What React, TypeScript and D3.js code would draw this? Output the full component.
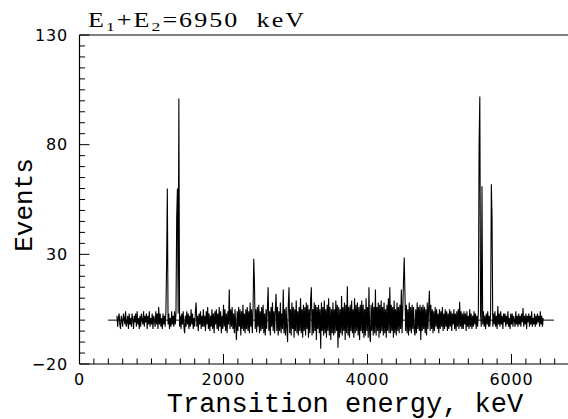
import React from 'react';
import * as d3 from 'd3';

// Spectrum: counts per 10 keV channel, starting at 520 keV
const START_KEV = 520;
const STEP_KEV = 10;
const COUNTS: number[] = [
  // 520-710
  2, -3, 1, 3, -2, -4, 2, 0, -3, 3, 1, -2, 4, -3, -1, 2, -4, 3, -2, 1,
  // 720-910
  -3, 3, 0, -4, 2, -1, 3, -3, 4, -2, 1, -4, 2, -3, 3, 0, -2, 4, -3, 2,
  // 920-1110
  -1, 3, -4, 2, -2, 4, -3, 1, -2, 3, -4, 2, 0, -3, 4, -2, 3, -4, 6, -2,
  // 1120-1310
  3, -3, 1, -4, 3, -2, 2, -3, 4, 26, 60, -2, 3, -4, 1, -3, 4, -2, 2, -3,
  // 1320-1510
  4, -2, 3, 47, 60, 3, 101, -3, 2, -4, 3, -2, 4, -3, -6, 2, -3, 4, -2, 3,
  // 1520-1710
  -4, 2, -3, 5, -2, 3, -4, 1, -3, 4, 8, -3, 2, -5, 3, -2, 4, -4, 2, -3,
  // 1720-1910
  5, -3, 2, -5, 4, -2, 6, -4, 3, -5, 2, -3, 5, -4, 3, -6, 4, -2, 5, -4,
  // 1920-2110
  3, -5, 6, -3, 4, -6, 2, -4, 7, -3, 5, -5, 3, -6, 4, -2, 14, -4, 5, -3,
  // 2120-2310
  6, -4, 3, -6, 5, -3, -9, 4, -5, 6, -3, 5, -7, 4, -4, 7, -5, 3, -6, 5,
  // 2320-2510
  -4, 6, -5, 4, -6, 8, -3, 5, -6, 4, 28, 17, -4, 5, -5.5, 6, -3, 7, -6, 4,
  // 2520-2710
  -5, 6, -4, 7, -6, 3, -7, 5, -4, 6, 15, -5, 4, -7, 6, -3, 8, -5, 4, -6,
  // 2720-2910
  5, 12, -5, 6, -7, 4, -5, 8, -6, 3, -4, 14, -6, 5, -7, 6, -4, -10, 7, 15,
  // 2920-3110
  -6, 5, -7, 8, -4, 6, -8, 5, -5, 9, -6, 4, -7, 6, -5, 10, -6, 5, -8, 7,
  // 3120-3310
  -5, 6, -7, 8, -4, 7, -8, 5, -6, 9, 15, -7, 5, -6, 8, -5, 7, -9, 6, -4,
  // 3320-3510
  7, -6, 5, -13, 8, -5, 6, -7, 9, -6, 5, -8, 7, -5, 10, -7, 6, -9, 5, -6,
  // 3520-3710
  8, -7, 5, -6, 9, -5, 7, -12.6, 6, -8, 5, -6, 11, -7, 6, -5, 8, -9, 7, -6,
  // 3720-3910
  15.5, -7, 6, -8, 7, -5, 9, -6, 5, -8, 10, -6, 7, -5, 8, -7, 6, -9, 7, -5,
  // 3920-4110
  9, -6, 7, -8, 5, -7, 10, -5, 6, -8, 15, -6, -10, 7, -5, 8, -7, 6, -6, 14,
  // 4120-4310
  -7, 6, -5, 8, -8, 7, -6, 9, -5, 6, -7, 8, -6, 5, -8, 7, -5, 10, -6, 15,
  // 4320-4510
  -6, 7, -5, 6, -8, 9, -6, 5, -7, 8, -5, 6, -6, 7, -4, 14, -6, 5, 18, 28.5,
  // 4520-4710
  12, -5, 7, -6, 5, -7, 8, -5, 6, -6, 7, -4, 6, -5, -7, 5, -6, 8, -4, 6,
  // 4720-4910
  -5, 7, -9, 6, -5, 7, -4, 6, -6, 5, -7, 8, -4, 6, 13.4, -5, 7, -4, 5, -6,
  // 4920-5110
  4, -5, 6, -3, 5, -4, 3, -6, 5, -4, 4, -3, 6, -5, 3, -4, 5, -3, 4, -5,
  // 5120-5310
  3, -4, 5, -3, 4, -5, 3, -2, 5, -4, 3, -5, 4, -3, 5, -4, 8.4, -3, 4, -4,
  // 5320-5510
  3, -4, 4, -2, 3, -5, 4, -3, 2, -4, 5, -3, 3, -4, 2, -3, 4, -2, 3, -4,
  // 5520-5710
  2, -3, 4, 80, 102, 3, -3, 61, -2, 4, -3, 2, -4, 3, -2, 4, -3, 2, -3, 3,
  // 5720-5910
  62, 46, -3, 3, -2, 4, -3, 2, -4, 6.4, -2, 3, -3, 4, -2, 2, -4, 3, -1, 3,
  // 5920-6110
  -3, 2, -2, 4, -3, 1, -4, 3, -2, 3, -3, 2, 0, -3, 4, -2, 2, -3, 3, -2,
  // 6120-6310
  2, -3, 3, -1, 5.5, -3, 2, -2, 3, -4, 2, -1, 3, -3, 2, -2, 4, -3, 1, -2,
  // 6320-6440
  3, -3, 2, -2, 3, -1, 2, -3, 4, -2, 2, -3, 1,
];

const BASELINE_KEV = [395, 6590];
const BASELINE_VAL = [0, 0];

const X_DOMAIN = [0, 7000];
const Y_DOMAIN = [-20, 130];
const X_MAJOR = [0, 2000, 4000, 6000];
const Y_MAJOR = [-20, 30, 80, 130];
const X_MINOR_STEP = 200;
const Y_MINOR_STEP = 5;

const X_LABEL = 'Transition energy, keV';
const Y_LABEL = 'Events';
const TITLE_TAIL = '=6950  keV';

const W = 568;
const H = 419;

export default function App() {
  const x = d3.scaleLinear().domain(X_DOMAIN).range([79.5, 583.5]);
  const y = d3.scaleLinear().domain(Y_DOMAIN).range([364, 35]);

  const pts = COUNTS.map((v, i) => ({ e: START_KEV + i * STEP_KEV, v }));
  const line = d3
    .line<{ e: number; v: number }>()
    .x((d) => x(d.e))
    .y((d) => y(d.v))
    .curve(d3.curveLinear);

  const xMinor = d3.range(X_DOMAIN[0], 6801, X_MINOR_STEP);
  const yMinor = d3.range(Y_DOMAIN[0], Y_DOMAIN[1] + 0.1, Y_MINOR_STEP);

  const x0 = x(0);
  const yb = y(-20);
  const yt = y(130);

  const tickFont = "'DejaVu Sans', sans-serif";
  const monoFont = "'Liberation Mono', monospace";
  const serifFont = "'Liberation Serif', serif";

  return (
    <svg
      width={W}
      height={H}
      style={{ position: 'absolute', left: 0, top: 0, background: '#fff' }}
    >
      {/* baseline */}
      <line
        x1={x(BASELINE_KEV[0])}
        x2={x(BASELINE_KEV[1])}
        y1={y(BASELINE_VAL[0])}
        y2={y(BASELINE_VAL[1])}
        stroke="#000"
        strokeWidth={1}
      />
      {/* spectrum */}
      <path d={line(pts) || ''} fill="none" stroke="#000" strokeWidth={1.1} strokeLinejoin="miter" strokeMiterlimit={2} />

      {/* frame */}
      <line x1={x0} x2={W} y1={yt} y2={yt} stroke="#000" strokeWidth={1.2} />
      <line x1={x0} x2={W} y1={yb} y2={yb} stroke="#000" strokeWidth={1.2} />
      <line x1={x0} x2={x0} y1={yt} y2={yb} stroke="#000" strokeWidth={1.2} />

      {/* y ticks */}
      {yMinor.map((v) => {
        const major = Y_MAJOR.includes(v);
        return (
          <line
            key={'yt' + v}
            x1={x0}
            x2={x0 + (major ? 10 : 5.5)}
            y1={y(v)}
            y2={y(v)}
            stroke="#000"
            strokeWidth={1}
          />
        );
      })}
      {Y_MAJOR.map((v) => (
        <text
          key={'yl' + v}
          x={68}
          y={y(v)}
          dy="0.36em"
          textAnchor="end"
          fontFamily={tickFont}
          fontSize={16}
          letterSpacing={0.8}
          fill="#000"
        >
          {v < 0 ? '\u2212' + Math.abs(v) : String(v)}
        </text>
      ))}

      {/* x ticks */}
      {xMinor.map((v) => {
        const major = X_MAJOR.includes(v);
        return (
          <line
            key={'xt' + v}
            x1={x(v)}
            x2={x(v)}
            y1={yb}
            y2={yb - (major ? 10 : 5.5)}
            stroke="#000"
            strokeWidth={1}
          />
        );
      })}
      {X_MAJOR.map((v) => (
        <text
          key={'xl' + v}
          x={x(v)}
          y={385}
          textAnchor="middle"
          fontFamily={tickFont}
          fontSize={16}
          letterSpacing={0.8}
          fill="#000"
        >
          {String(v)}
        </text>
      ))}

      {/* axis titles */}
      <text
        x={345}
        y={412}
        textAnchor="middle"
        fontFamily={monoFont}
        fontSize={27}
        fill="#000"
      >
        {X_LABEL}
      </text>
      <text
        transform={`translate(32,205) rotate(-90)`}
        textAnchor="middle"
        fontFamily={monoFont}
        fontSize={26}
        fill="#000"
      >
        {Y_LABEL}
      </text>

      {/* title */}
      <text
        transform="translate(88,27) scale(1.3,1)"
        fontFamily={serifFont}
        fontSize={20}
        letterSpacing={1.6}
        fill="#000"
        xmlSpace="preserve"
        style={{ whiteSpace: 'pre' }}
      >
        E<tspan dy={4} fontSize={13.5}>1</tspan>
        <tspan dy={-4}>+E</tspan>
        <tspan dy={4} fontSize={13.5}>2</tspan>
        <tspan dy={-4}>{TITLE_TAIL}</tspan>
      </text>
    </svg>
  );
}
